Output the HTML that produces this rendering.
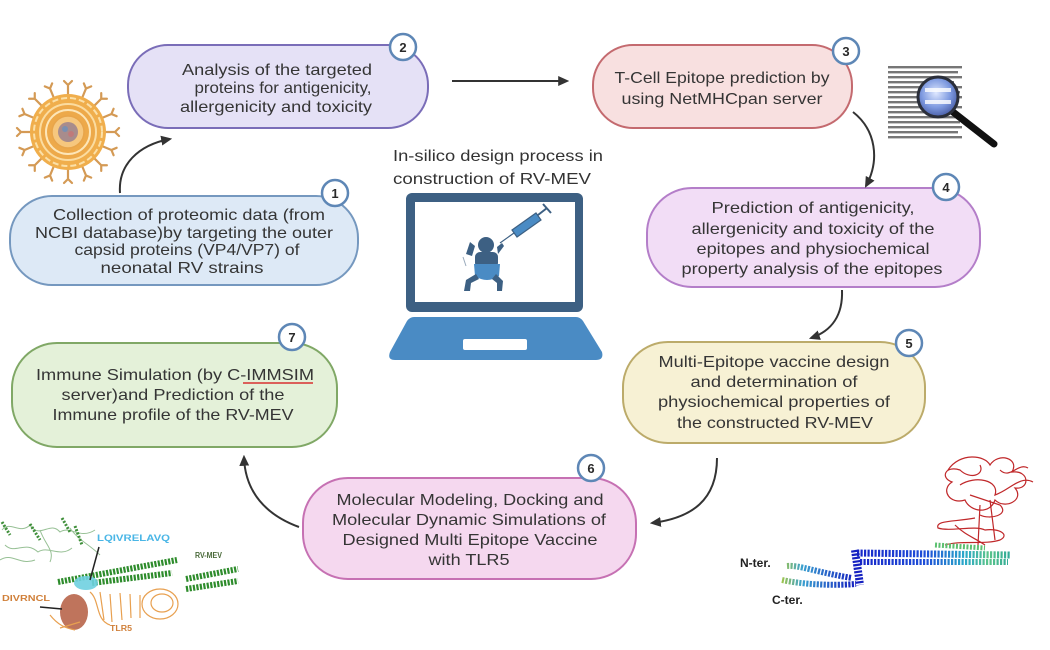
<!DOCTYPE html>
<html><head><meta charset="utf-8"><style>
html,body{margin:0;padding:0;background:#fff;width:1050px;height:650px;overflow:hidden}
svg{display:block}
text{font-family:"Liberation Sans",Arial,sans-serif}
.t{font-size:16px;fill:#353535;text-anchor:middle}
.n{font-size:13px;font-weight:bold;fill:#2a2a2a;text-anchor:middle}
</style></head><body>
<svg width="1050" height="650" viewBox="0 0 1050 650" xmlns="http://www.w3.org/2000/svg">
<defs>
<marker id="ah" viewBox="0 0 10 10" refX="8" refY="5" markerWidth="11" markerHeight="11" markerUnits="userSpaceOnUse" orient="auto"><path d="M0,0.5 L10,5 L0,9.5 z" fill="#333"/></marker>
<radialGradient id="lens" cx="0.45" cy="0.4" r="0.6"><stop offset="0" stop-color="#dfe8ff"/><stop offset="0.6" stop-color="#7e9ae0"/><stop offset="1" stop-color="#4a5fa8"/></radialGradient>
<linearGradient id="hx" x1="855" y1="0" x2="1012" y2="0" gradientUnits="userSpaceOnUse"><stop offset="0" stop-color="#1624c8"/><stop offset="0.45" stop-color="#1f4fd8"/><stop offset="0.7" stop-color="#2aa9c9"/><stop offset="0.85" stop-color="#5cc48a"/><stop offset="1" stop-color="#2aa79a"/></linearGradient>
<linearGradient id="nt" x1="780" y1="0" x2="855" y2="0" gradientUnits="userSpaceOnUse"><stop offset="0" stop-color="#a8c840"/><stop offset="0.3" stop-color="#3aa0d0"/><stop offset="1" stop-color="#1420c0"/></linearGradient>
</defs>
<rect width="1050" height="650" fill="#fff"/>

<!-- Boxes -->
<rect x="10" y="196" width="348" height="89" rx="42" fill="#dde9f6" stroke="#7598bf" stroke-width="2"/>
<rect x="128" y="45" width="300" height="83" rx="40" fill="#e5e1f6" stroke="#7a6db8" stroke-width="2"/>
<rect x="593" y="45" width="259" height="83" rx="40" fill="#f8e0e0" stroke="#c46a6f" stroke-width="2"/>
<rect x="647" y="188" width="333" height="99" rx="45" fill="#f2ddf6" stroke="#b47ec9" stroke-width="2"/>
<rect x="623" y="342" width="302" height="101" rx="45" fill="#f7f1d4" stroke="#bcab6a" stroke-width="2"/>
<rect x="303" y="478" width="333" height="101" rx="45" fill="#f5d8ef" stroke="#c671b3" stroke-width="2"/>
<rect x="12" y="343" width="325" height="104" rx="45" fill="#e4f1d9" stroke="#80a866" stroke-width="2"/>

<!-- Box texts -->
<text class="t" x="189" y="220" textLength="272" lengthAdjust="spacingAndGlyphs">Collection of proteomic data (from</text>
<text class="t" x="184" y="238" textLength="298" lengthAdjust="spacingAndGlyphs">NCBI database)by targeting the outer</text>
<text class="t" x="187" y="255" textLength="225" lengthAdjust="spacingAndGlyphs">capsid proteins (VP4/VP7) of</text>
<text class="t" x="182" y="273" textLength="163" lengthAdjust="spacingAndGlyphs">neonatal RV strains</text>

<text class="t" x="277" y="75" textLength="190" lengthAdjust="spacingAndGlyphs">Analysis of the targeted</text>
<text class="t" x="283" y="93" textLength="177" lengthAdjust="spacingAndGlyphs">proteins for antigenicity,</text>
<text class="t" x="276" y="112" textLength="192" lengthAdjust="spacingAndGlyphs">allergenicity and toxicity</text>

<text class="t" x="722" y="83" textLength="215" lengthAdjust="spacingAndGlyphs">T-Cell Epitope prediction by</text>
<text class="t" x="722" y="104" textLength="201" lengthAdjust="spacingAndGlyphs">using NetMHCpan server</text>

<text class="t" x="813" y="213" textLength="203" lengthAdjust="spacingAndGlyphs">Prediction of antigenicity,</text>
<text class="t" x="813" y="234" textLength="243" lengthAdjust="spacingAndGlyphs">allergenicity and toxicity of the</text>
<text class="t" x="813" y="254" textLength="233" lengthAdjust="spacingAndGlyphs">epitopes and physiochemical</text>
<text class="t" x="812" y="274" textLength="261" lengthAdjust="spacingAndGlyphs">property analysis of the epitopes</text>

<text class="t" x="774" y="367" textLength="231" lengthAdjust="spacingAndGlyphs">Multi-Epitope vaccine design</text>
<text class="t" x="774" y="387" textLength="167" lengthAdjust="spacingAndGlyphs">and determination of</text>
<text class="t" x="774" y="407" textLength="232" lengthAdjust="spacingAndGlyphs">physiochemical properties of</text>
<text class="t" x="775" y="428" textLength="196" lengthAdjust="spacingAndGlyphs">the constructed RV-MEV</text>

<text class="t" x="470" y="505" textLength="267" lengthAdjust="spacingAndGlyphs">Molecular Modeling, Docking and</text>
<text class="t" x="469" y="525" textLength="274" lengthAdjust="spacingAndGlyphs">Molecular Dynamic Simulations of</text>
<text class="t" x="470" y="545" textLength="255" lengthAdjust="spacingAndGlyphs">Designed Multi Epitope Vaccine</text>
<text class="t" x="469" y="565" textLength="81" lengthAdjust="spacingAndGlyphs">with TLR5</text>

<text class="t" x="175" y="380" textLength="278" lengthAdjust="spacingAndGlyphs">Immune Simulation (by C-IMMSIM</text>
<text class="t" x="173" y="400" textLength="223" lengthAdjust="spacingAndGlyphs">server)and Prediction of the</text>
<text class="t" x="173" y="420" textLength="241" lengthAdjust="spacingAndGlyphs">Immune profile of the RV-MEV</text>
<line x1="243" y1="383" x2="313" y2="383" stroke="#d83030" stroke-width="1.6"/>

<!-- Number circles -->
<g fill="#fff" stroke="#5e87b6" stroke-width="2.5">
<circle cx="335" cy="193" r="13"/><circle cx="403" cy="47" r="13"/><circle cx="846" cy="51" r="13"/>
<circle cx="946" cy="187" r="13"/><circle cx="909" cy="343" r="13"/><circle cx="591" cy="468" r="13"/>
<circle cx="292" cy="337" r="13"/>
</g>
<text class="n" x="335" y="198">1</text><text class="n" x="403" y="52">2</text><text class="n" x="846" y="56">3</text>
<text class="n" x="946" y="192">4</text><text class="n" x="909" y="348">5</text><text class="n" x="591" y="473">6</text>
<text class="n" x="292" y="342">7</text>

<!-- Arrows -->
<g fill="none" stroke="#333" stroke-width="2" marker-end="url(#ah)">
<path d="M120,193 C118,165 138,145 170,139"/>
<path d="M452,81 L567,81"/>
<path d="M853,112 C876,130 880,160 866,186"/>
<path d="M842,290 C843,315 832,331 811,338"/>
<path d="M717,458 C717,500 692,518 652,523"/>
<path d="M299,527 C266,515 245,492 244,457"/>
</g>

<!-- Title -->
<text x="393" y="161" font-size="16" fill="#333" textLength="210" lengthAdjust="spacingAndGlyphs">In-silico design process in</text>
<text x="393" y="184" font-size="16" fill="#333" textLength="198" lengthAdjust="spacingAndGlyphs">construction of RV-MEV</text>

<!-- Laptop -->
<rect x="406" y="193" width="177" height="119" rx="6" fill="#3d6083"/>
<rect x="415" y="202" width="160" height="100" fill="#fff"/>
<path d="M414,317 L576,317 Q580,317 583,321 L602,352 Q604,360 596,360 L395,360 Q387,360 390,352 L407,321 Q410,317 414,317 z" fill="#4a8bc4"/>
<rect x="463" y="339" width="64" height="11" rx="2" fill="#fff"/>
<!-- baby -->
<circle cx="486" cy="245" r="8" fill="#3d6083"/>
<path d="M470,242 L466,254 L472,256 L475,246 z" fill="#3d6083"/>
<path d="M497,247 L502,243 L504,246 L498,254 z" fill="#3d6083"/>
<rect x="475" y="252" width="23" height="16" rx="5" fill="#3d6083"/>
<path d="M474,264 L500,264 L499,276 Q487,284 475,276 z" fill="#4a8bc4"/>
<path d="M476,274 L466,280 L464,291 L470,291 L471,283 L479,279 z" fill="#3d6083"/>
<path d="M496,274 L503,281 L502,291 L497,291 L497,283 L492,279 z" fill="#3d6083"/>
<line x1="463" y1="257" x2="466" y2="266" stroke="#9ab" stroke-width="1"/>
<!-- syringe -->
<line x1="500" y1="243" x2="514" y2="233" stroke="#3d6083" stroke-width="1.2"/>
<path d="M512,230 L536,213 L541,220 L517,237 z" fill="#4a8bc4" stroke="#3d6083" stroke-width="1.2"/>
<line x1="538" y1="215" x2="547" y2="208" stroke="#3d6083" stroke-width="2"/>
<line x1="543" y1="204" x2="551" y2="213" stroke="#3d6083" stroke-width="2"/>

<!-- Virus -->
<g transform="translate(68,132)">
<g stroke="#d49a55" stroke-width="2.2" fill="none" stroke-linecap="round">
<g transform="rotate(0)"><path d="M0,-36 L0,-47 M-4,-51 L0,-47 L4,-51"/></g>
<g transform="rotate(22.5)"><path d="M0,-36 L0,-47 M-4,-51 L0,-47 L4,-51"/></g>
<g transform="rotate(45)"><path d="M0,-36 L0,-47 M-4,-51 L0,-47 L4,-51"/></g>
<g transform="rotate(67.5)"><path d="M0,-36 L0,-47 M-4,-51 L0,-47 L4,-51"/></g>
<g transform="rotate(90)"><path d="M0,-36 L0,-47 M-4,-51 L0,-47 L4,-51"/></g>
<g transform="rotate(112.5)"><path d="M0,-36 L0,-47 M-4,-51 L0,-47 L4,-51"/></g>
<g transform="rotate(135)"><path d="M0,-36 L0,-47 M-4,-51 L0,-47 L4,-51"/></g>
<g transform="rotate(157.5)"><path d="M0,-36 L0,-47 M-4,-51 L0,-47 L4,-51"/></g>
<g transform="rotate(180)"><path d="M0,-36 L0,-47 M-4,-51 L0,-47 L4,-51"/></g>
<g transform="rotate(202.5)"><path d="M0,-36 L0,-47 M-4,-51 L0,-47 L4,-51"/></g>
<g transform="rotate(225)"><path d="M0,-36 L0,-47 M-4,-51 L0,-47 L4,-51"/></g>
<g transform="rotate(247.5)"><path d="M0,-36 L0,-47 M-4,-51 L0,-47 L4,-51"/></g>
<g transform="rotate(270)"><path d="M0,-36 L0,-47 M-4,-51 L0,-47 L4,-51"/></g>
<g transform="rotate(292.5)"><path d="M0,-36 L0,-47 M-4,-51 L0,-47 L4,-51"/></g>
<g transform="rotate(315)"><path d="M0,-36 L0,-47 M-4,-51 L0,-47 L4,-51"/></g>
<g transform="rotate(337.5)"><path d="M0,-36 L0,-47 M-4,-51 L0,-47 L4,-51"/></g>
</g>
<circle r="38" fill="#f0ae4c"/>
<circle r="34" fill="none" stroke="#fbe0a8" stroke-width="2" stroke-dasharray="6 3"/>
<circle r="28" fill="#eda94a" stroke="#fbdca0" stroke-width="2"/>
<circle r="22" fill="none" stroke="#fde6b8" stroke-width="2"/>
<circle r="16" fill="#f6c77e" stroke="#e8a54a" stroke-width="1.5"/>
<circle r="10" fill="#a88c8c"/>
<circle cx="-3" cy="-3" r="3" fill="#7a8fb0"/><circle cx="3" cy="2" r="3" fill="#c07a7a"/>
</g>

<!-- Magnifier doc -->
<g fill="#555" opacity="0.8">
<rect x="888" y="66" width="74" height="2.4"/><rect x="888" y="71" width="70" height="2.4"/>
<rect x="888" y="76" width="74" height="2.4"/><rect x="888" y="81" width="66" height="2.4"/>
<rect x="888" y="86" width="74" height="2.4"/><rect x="888" y="91" width="72" height="2.4"/>
<rect x="888" y="96" width="74" height="2.4"/><rect x="888" y="101" width="70" height="2.4"/>
<rect x="888" y="106" width="74" height="2.4"/><rect x="888" y="111" width="68" height="2.4"/>
<rect x="888" y="116" width="74" height="2.4"/><rect x="888" y="121" width="72" height="2.4"/>
<rect x="888" y="126" width="74" height="2.4"/><rect x="888" y="131" width="70" height="2.4"/>
<rect x="888" y="136" width="74" height="2.4"/>
</g>
<line x1="953" y1="112" x2="994" y2="144" stroke="#111" stroke-width="7" stroke-linecap="round"/>
<circle cx="938" cy="97" r="20" fill="url(#lens)" stroke="#2b2f3a" stroke-width="3"/>
<rect x="925" y="88" width="26" height="4" fill="#fff" opacity="0.8"/>
<rect x="925" y="100" width="26" height="4" fill="#fff" opacity="0.8"/>

<!-- Protein structure (bottom right) -->
<g fill="none" stroke="#c0282a" stroke-width="1.2">
<path d="M948,470 C960,452 985,455 990,465 C998,452 1020,458 1012,472 C1030,470 1030,490 1015,488 C1025,500 1005,510 995,500 C990,515 970,512 965,500 C950,505 940,490 952,482 C940,478 945,465 960,470 C970,480 985,475 980,465"/>
<path d="M960,485 C975,475 1000,480 995,495 C1010,490 1020,475 1033,482 M970,495 L1000,505 C1010,515 990,520 980,515"/>
<path d="M975,518 C955,522 935,520 938,528 C950,532 975,525 985,530 C1000,528 1010,535 1000,540 C985,545 960,540 945,545"/>
<path d="M990,500 L995,540 M980,505 L978,545 M955,525 C965,535 975,538 985,545"/>
<path d="M1000,470 C1010,480 1018,462 1028,468"/>
</g>
<path d="M857,553 L1010,555" stroke="url(#hx)" stroke-width="7" fill="none" stroke-dasharray="2.2 1.3"/>
<path d="M860,562 L1008,562" stroke="url(#hx)" stroke-width="6" fill="none" stroke-dasharray="2.2 1.3"/>
<path d="M855,550 L860,585" stroke="#1420c0" stroke-width="8" fill="none" stroke-dasharray="2.2 1.3"/>
<path d="M787,566 C800,565 815,572 852,578" stroke="url(#nt)" stroke-width="6" fill="none" stroke-dasharray="2.2 1.3"/>
<path d="M782,580 C800,584 830,586 856,584" stroke="url(#nt)" stroke-width="6" fill="none" stroke-dasharray="2.2 1.3"/>
<path d="M935,545 L985,548" stroke="#5cc070" stroke-width="5" fill="none" stroke-dasharray="2 1.5"/>
<text x="740" y="567" font-size="12" font-weight="bold" fill="#222">N-ter.</text>
<text x="772" y="604" font-size="12" font-weight="bold" fill="#222">C-ter.</text>

<!-- TLR5 docking image (bottom left) -->
<g fill="none" stroke="#97c095" stroke-width="1">
<path d="M2,530 C10,520 20,535 30,525 C40,540 50,520 60,532 C70,525 80,540 95,530 M5,545 C15,555 25,540 38,552 C48,545 60,558 72,548 M0,560 C12,552 20,566 35,560 M40,530 C45,545 55,550 50,562 M70,528 C78,540 90,545 100,555"/>
</g>
<g stroke="#3f8f3a" stroke-width="3" fill="none" stroke-dasharray="2 1.5">
<path d="M2,522 L10,535 M30,524 L40,540 M62,518 L70,532 M75,526 L82,545"/>
</g>
<g stroke="#2e8c2c" stroke-width="6" fill="none" stroke-dasharray="2.2 1.3">
<path d="M58,582 L177,560"/>
<path d="M92,583 L172,573"/>
<path d="M186,579 L238,569"/>
<path d="M186,589 L238,581"/>
</g>
<ellipse cx="86" cy="583" rx="12" ry="7" fill="#6fd0e0" opacity="0.9"/>
<line x1="99" y1="547" x2="90" y2="580" stroke="#222" stroke-width="1.5"/>
<ellipse cx="74" cy="612" rx="14" ry="18" fill="#b8654a" opacity="0.9"/>
<g fill="none" stroke="#e8a050" stroke-width="1.2">
<path d="M90,592 C100,600 95,620 110,625 M100,592 L104,620 M110,594 L112,622 M120,593 L122,620 M130,594 L131,618 M140,595 L140,618"/>
<ellipse cx="160" cy="604" rx="18" ry="15"/>
<ellipse cx="162" cy="603" rx="11" ry="9"/>
<path d="M50,615 C58,625 65,628 75,630 M60,628 L80,622"/>
</g>
<line x1="40" y1="607" x2="62" y2="609" stroke="#222" stroke-width="1.5"/>
<text x="97" y="541" font-size="9" font-weight="bold" fill="#4ab6e6" textLength="73" lengthAdjust="spacingAndGlyphs">LQIVRELAVQ</text>
<text x="195" y="558" font-size="8" font-weight="bold" fill="#4a6a3a" textLength="27" lengthAdjust="spacingAndGlyphs">RV-MEV</text>
<text x="2" y="601" font-size="8" font-weight="bold" fill="#d0803a" textLength="48" lengthAdjust="spacingAndGlyphs">DIVRNCL</text>
<text x="110" y="631" font-size="8" font-weight="bold" fill="#d0803a" textLength="22" lengthAdjust="spacingAndGlyphs">TLR5</text>
</svg>
</body></html>
